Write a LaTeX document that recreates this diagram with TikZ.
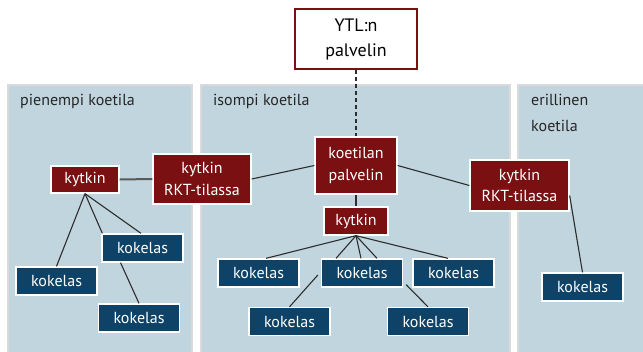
\documentclass[tikz,border=0pt]{standalone}
\usepackage{fontspec}
\setmainfont{PT Sans}
\definecolor{panelfill}{RGB}{193,213,222}
\definecolor{panelline}{RGB}{218,218,218}
\definecolor{maroon}{RGB}{122,16,18}
\definecolor{navy}{RGB}{14,67,103}
\definecolor{linec}{RGB}{45,45,45}
\begin{document}
\begin{tikzpicture}[x=1pt,y=-1pt,
  panel/.style={fill=panelfill,draw=panelline,line width=1.5pt},
  ptitle/.style={anchor=north west,inner sep=0pt,align=left,font=\fontsize{16}{26}\selectfont,text=black!85},
  redbox/.style={draw=white,line width=1.3pt,fill=maroon,text=white,inner sep=0pt,align=center,font=\fontsize{16}{21.5}\selectfont},
  bluebox/.style={draw=white,line width=1.3pt,fill=navy,text=white,inner sep=0pt,minimum width=81pt,minimum height=28pt,font=\fontsize{16}{19}\selectfont},
  conn/.style={draw=linec,line width=1.1pt},
]
\useasboundingbox (0,0) rectangle (643,351);
\fill[white] (0,0) rectangle (643,351);
% panels
\draw[panel] (8,85) rectangle (192,356);
\draw[panel] (201,85) rectangle (510,356);
\draw[panel] (518,85) rectangle (650,356);
\node[ptitle] (t1) at (20,94) {pienempi koetila};
\node[ptitle] (t2) at (213,94) {isompi koetila};
\node[ptitle] (t3) at (531,94) {erillinen\\koetila};
% top server
\node[draw=maroon,line width=1.8pt,fill=white,minimum width=122pt,minimum height=60pt,inner sep=0pt,align=center,font=\fontsize{18}{25}\selectfont] (ytl) at (356,39) {YTL:n\\palvelin};
% red boxes
\node[redbox,minimum width=82pt,minimum height=57pt] (pal) at (356,165.5) {koetilan\\palvelin};
\node[redbox,minimum width=98pt,minimum height=50pt] (rL) at (202,179) {kytkin\\RKT-tilassa};
\node[redbox,minimum width=99pt,minimum height=51pt] (rR) at (519.5,185.5) {kytkin\\RKT-tilassa};
\node[redbox,minimum width=68pt,minimum height=27pt] (kL) at (85,179.5) {kytkin};
\node[redbox,minimum width=64pt,minimum height=28pt] (mk) at (356,221) {kytkin};
% blue boxes
\node[bluebox] (a) at (142.5,248) {kokelas};
\node[bluebox] (b) at (56.5,281) {kokelas};
\node[bluebox] (c) at (139,318) {kokelas};
\node[bluebox] (k1) at (258.5,273) {kokelas};
\node[bluebox] (k2) at (362,273) {kokelas};
\node[bluebox] (k3) at (453.5,273) {kokelas};
\node[bluebox] (k4) at (289.5,321.5) {kokelas};
\node[bluebox] (k5) at (428,321.5) {kokelas};
\node[bluebox] (rk) at (582.5,287) {kokelas};
% connectors
\draw[conn,dash pattern=on 4pt off 3pt] (ytl.south) -- (pal.north);
\draw[conn] (pal.west) -- (rL.east);
\draw[conn] (pal.east) -- (rR.west);
\draw[conn] (pal.south) -- (mk.north);
\draw[draw=black!65,line width=2pt] (kL.east) -- (rL.west);
\draw[conn] (kL.south) -- (b.north);
\draw[conn] (kL.south) -- ([xshift=1pt]a.north west);
\draw[conn] (kL.south) -- ([xshift=-1.5pt]a.north);
\draw[conn] ([xshift=-22pt]a.south) -- (c.north);
\draw[conn] (mk.south) -- ([xshift=7.5pt]k1.north);
\draw[conn] (mk.south) -- ([xshift=-26pt]k2.north);
\draw[conn] (mk.south) -- ([xshift=-1pt]k2.north);
\draw[conn] (mk.south) -- ([xshift=15pt]k2.north);
\draw[conn] (mk.south) -- ([xshift=-5.5pt]k3.north);
\draw[conn] ([xshift=-3pt,yshift=-2pt]k2.west) -- (k4.north);
\draw[conn] ([xshift=3pt,yshift=3pt]k2.south east) -- (k5.north);
\draw[conn] ([yshift=-10pt]rR.east) -- (rk.north);
\end{tikzpicture}
\end{document}
